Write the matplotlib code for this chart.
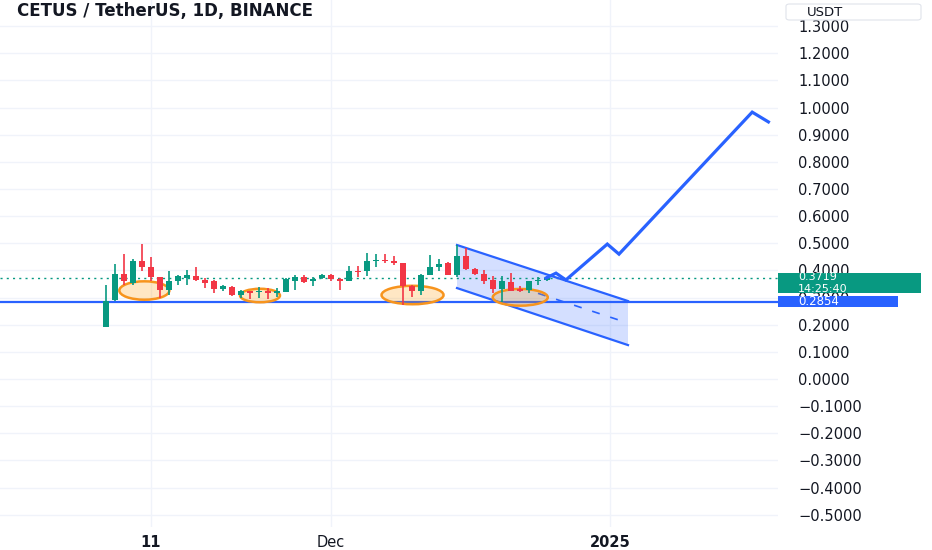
import matplotlib
matplotlib.use("Agg")
import matplotlib.pyplot as plt
import matplotlib.dates as mdates
import matplotlib.transforms as mtransforms
from matplotlib.patches import Rectangle, Ellipse, Polygon, FancyBboxPatch
from matplotlib.ticker import FuncFormatter
import numpy as np
import pandas as pd

# colours (TradingView light theme)
UP = '#089981'
DOWN = '#f23645'
BLUE = '#2962ff'
TXT = '#131722'
GRID = '#f0f3fa'
ORANGE = '#f7941d'

# ---------------- data ----------------
dates = pd.date_range('2024-11-06', periods=50, freq='D')
opens = [0.190, 0.292, 0.387, 0.354, 0.433, 0.411, 0.375, 0.329, 0.362, 0.372,
         0.378, 0.366, 0.362, 0.331, 0.338, 0.310, 0.323, 0.319, 0.323, 0.317,
         0.320, 0.362, 0.375, 0.362, 0.372, 0.382, 0.370, 0.362, 0.399, 0.397,
         0.433, 0.439, 0.433, 0.427, 0.341, 0.323, 0.384, 0.414, 0.427, 0.384,
         0.452, 0.406, 0.387, 0.366, 0.333, 0.357, 0.333, 0.329, 0.360, 0.366]
highs = [0.347, 0.424, 0.460, 0.443, 0.497, 0.448, 0.376, 0.399, 0.382, 0.400,
         0.411, 0.372, 0.366, 0.347, 0.341, 0.329, 0.326, 0.338, 0.335, 0.335,
         0.372, 0.382, 0.382, 0.375, 0.387, 0.387, 0.372, 0.415, 0.415, 0.464,
         0.460, 0.460, 0.452, 0.427, 0.345, 0.387, 0.458, 0.443, 0.431, 0.495,
         0.482, 0.408, 0.403, 0.378, 0.378, 0.390, 0.341, 0.362, 0.375, 0.378]
lows = [0.190, 0.286, 0.347, 0.347, 0.399, 0.362, 0.298, 0.310, 0.347, 0.347,
        0.360, 0.335, 0.317, 0.323, 0.305, 0.298, 0.295, 0.298, 0.295, 0.301,
        0.320, 0.329, 0.354, 0.341, 0.370, 0.360, 0.329, 0.360, 0.375, 0.378,
        0.411, 0.427, 0.419, 0.274, 0.301, 0.310, 0.382, 0.399, 0.382, 0.375,
        0.403, 0.382, 0.350, 0.317, 0.284, 0.323, 0.320, 0.317, 0.347, 0.360]
closes = [0.286, 0.388, 0.362, 0.436, 0.413, 0.375, 0.329, 0.362, 0.378, 0.384,
          0.366, 0.355, 0.333, 0.341, 0.310, 0.323, 0.316, 0.325, 0.317, 0.325,
          0.369, 0.375, 0.356, 0.369, 0.382, 0.370, 0.362, 0.397, 0.393, 0.433,
          0.439, 0.433, 0.426, 0.341, 0.325, 0.384, 0.411, 0.424, 0.384, 0.452,
          0.406, 0.387, 0.360, 0.333, 0.360, 0.325, 0.325, 0.360, 0.366, 0.3719]

support = 0.2854
last_price = 0.3719
countdown = '14:25:40'

# drawings: x given in days after 2024-11-11
ref_day = '2024-11-11'
channel_days = [34.0, 53.0]
channel_top = [0.4936, 0.2873]
channel_bottom = [0.335, 0.125]
midline_start = 43.0

path_days = [43.9, 45.0, 46.1, 50.7, 52.0, 66.8, 68.6]
path_prices = [0.372, 0.390, 0.365, 0.497, 0.460, 0.983, 0.947]

ellipse_days = [-0.74, 12.11, 29.06, 41.03]
ellipse_prices = [0.326, 0.3076, 0.3094, 0.3009]
ellipse_w_days = [5.56, 4.44, 6.89, 6.11]
ellipse_h_price = [0.0678, 0.0497, 0.068, 0.0615]

x_tick_dates = ['2024-11-11', '2024-12-01', '2025-01-01']
x_tick_labels = ['11', 'Dec', '2025']
x_tick_bold = [True, False, True]
y_ticks = [-0.5, -0.4, -0.3, -0.2, -0.1, 0.0, 0.1, 0.2, 0.3, 0.4,
           0.5, 0.6, 0.7, 0.8, 0.9, 1.0, 1.1, 1.2, 1.3]

# ---------------- figure ----------------
W, H = 932, 550
fig = plt.figure(figsize=(W / 100, H / 100), dpi=100)
ax = fig.add_axes([0, 23 / H, 778 / W, 527 / H])

base = mdates.date2num(pd.Timestamp(ref_day))
x = mdates.date2num(dates)
o = np.array(opens); c = np.array(closes)
hi = np.array(highs); lo = np.array(lows)
cols = np.where(c >= o, UP, DOWN)

# candles
ax.vlines(x, lo, hi, colors=cols, lw=1.2, zorder=4)
ax.bar(x, np.maximum(np.abs(c - o), 0.002), bottom=np.minimum(o, c),
       width=0.72, color=cols, zorder=5, linewidth=0)

# lines
ax.axhline(support, color=BLUE, lw=1.6, zorder=3)
ax.axhline(last_price, color=UP, lw=1, ls=(0, (1.5, 3)), zorder=3)

# parallel channel
cx = [base + d for d in channel_days]
ax.add_patch(Polygon([(cx[0], channel_top[0]), (cx[1], channel_top[1]),
                      (cx[1], channel_bottom[1]), (cx[0], channel_bottom[0])],
                     closed=True, facecolor=BLUE, alpha=0.2, lw=0, zorder=2))
ax.plot(cx, channel_top, color=BLUE, lw=1.6, zorder=3)
ax.plot(cx, channel_bottom, color=BLUE, lw=1.6, zorder=3)
mid = [(t + b) / 2 for t, b in zip(channel_top, channel_bottom)]
ms = np.interp(midline_start, channel_days, mid)
ax.plot([base + midline_start, cx[1]], [ms, mid[1]], color=BLUE, lw=1.2,
        ls=(0, (4.8, 6.6)), zorder=3)

# ellipses
for d, p, w, h in zip(ellipse_days, ellipse_prices, ellipse_w_days, ellipse_h_price):
    ax.add_patch(Ellipse((base + d, p), w, h, facecolor=(1.0, 0.6, 0.0, 0.23),
                         edgecolor=ORANGE, lw=1.8, zorder=3.5))

# projection path
ax.plot([base + d for d in path_days], path_prices, color=BLUE, lw=2.3,
        solid_joinstyle='miter', zorder=6)

# axes cosmetics
ax.set_xlim(base - 151 / 9, base + 627 / 9)
ax.set_ylim(-0.545, 1.396)
for s in ax.spines.values():
    s.set_visible(False)

ax.set_yticks(y_ticks)
ax.yaxis.set_major_formatter(FuncFormatter(lambda v, pos: f"{round(v, 4):.4f}".replace('-', '\u2212')))
ax.yaxis.tick_right()
ax.tick_params(axis='y', length=0, pad=14.5, labelsize=10.5, labelcolor=TXT)

ax.set_xticks([mdates.date2num(pd.Timestamp(t)) for t in x_tick_dates])
ax.set_xticklabels(x_tick_labels)
for lab, b in zip(ax.get_xticklabels(), x_tick_bold):
    lab.set_fontweight('bold' if b else 'normal')
ax.tick_params(axis='x', length=0, pad=6, labelsize=10.5, labelcolor=TXT)
ax.grid(True, color=GRID, lw=1, zorder=0)
ax.set_axisbelow(True)

# price labels on the scale
trans = mtransforms.blended_transform_factory(ax.transAxes, ax.transData)
ax.add_patch(Rectangle((1.0, last_price - 0.0563), 921 / 778 - 1.0, 0.0759,
                       transform=trans, facecolor=UP, lw=0, clip_on=False, zorder=10))
ax.add_patch(Rectangle((1.0, support - 0.0191), 898 / 778 - 1.0, 0.0394,
                       transform=trans, facecolor=BLUE, lw=0, clip_on=False, zorder=10))
ax.text(798 / 778, last_price, f"{last_price:.4f}", color='white',
        fontsize=8, va='center', ha='left', clip_on=False, zorder=11,
        transform=mtransforms.offset_copy(trans, fig=fig, y=0.6, units='points'))
ax.text(798 / 778, last_price, countdown, color='white', fontsize=8, va='center',
        ha='left', clip_on=False, zorder=11,
        transform=mtransforms.offset_copy(trans, fig=fig, y=-7.6, units='points'))
ax.text(798 / 778, support, f"{support:.4f}", transform=trans, color='white',
        fontsize=8.5, va='center', ha='left', clip_on=False, zorder=11)

# currency box
fig.add_artist(FancyBboxPatch((786 / W, 1 - 20 / H), 135 / W, 16 / H,
                              boxstyle='round,pad=0,rounding_size=0.004',
                              transform=fig.transFigure, facecolor='white',
                              edgecolor='#e0e3eb', lw=0.8))
fig.text(807 / W, 1 - 12 / H, 'USDT', color=TXT, fontsize=9.5, va='center', ha='left')

# legend / title
fig.text(17 / W, 1 - 11 / H, 'CETUS / TetherUS, 1D, BINANCE', color=TXT,
         fontsize=12, fontweight='bold', va='center', ha='left')

fig.savefig('out.png', dpi=100)
